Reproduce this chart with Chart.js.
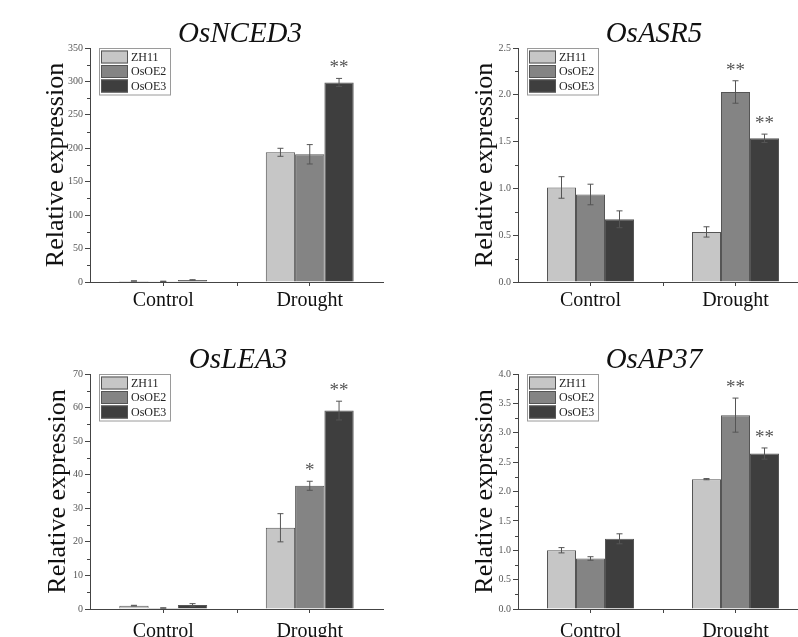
<!DOCTYPE html>
<html>
<head>
<meta charset="utf-8">
<script src="https://cdn.jsdelivr.net/npm/chart.js@4.4.0/dist/chart.umd.min.js"></script>
<style>
    html, body { margin: 0; padding: 0; background: #fff; }
    body { width: 798px; height: 637px; overflow: hidden; position: relative; }
    canvas { position: absolute; }
</style>
</head>
<body>
<canvas id="nced3" width="400" height="318" style="left:0;top:0"></canvas>
<canvas id="asr5" width="420" height="318" style="left:400px;top:0"></canvas>
<canvas id="lea3" width="400" height="330" style="left:0;top:320px"></canvas>
<canvas id="ap37" width="420" height="330" style="left:400px;top:320px"></canvas>
<script>
// Expression data (mean, error, significance)
const categories = ['Control', 'Drought'];
const lines = ['ZH11', 'OsOE2', 'OsOE3'];

// OsNCED3
const nced3Mean = [[1.5, 194], [1, 191], [3, 298.5]];
const nced3Err = [[0.2, 6], [0.2, 14.5], [0.4, 6]];
const nced3Sig = [['', ''], ['', ''], ['', '**']];
const nced3Ticks = [0, 350, 50];

// OsASR5
const asr5Mean = [[1.01, 0.535], [0.935, 2.03], [0.67, 1.535]];
const asr5Err = [[0.115, 0.055], [0.11, 0.12], [0.09, 0.045]];
const asr5Sig = [['', ''], ['', '**'], ['', '**']];
const asr5Ticks = [0, 2.5, 0.5];

// OsLEA3
const lea3Mean = [[1.0, 24.2], [0.3, 36.7], [1.2, 59.1]];
const lea3Err = [[0.1, 4.2], [0.05, 1.35], [0.4, 2.8]];
const lea3Sig = [['', ''], ['', '*'], ['', '**']];
const lea3Ticks = [0, 70, 10];

// OsAP37
const ap37Mean = [[1.0, 2.21], [0.86, 3.3], [1.195, 2.646]];
const ap37Err = [[0.045, 0.01], [0.03, 0.29], [0.085, 0.095]];
const ap37Sig = [['', ''], ['', '**'], ['', '**']];
const ap37Ticks = [0, 4, 0.5];

const barColors = ['#c6c6c6', '#848484', '#3e3e3e'];
const serif = '"Liberation Serif", "Times New Roman", serif';

// titles, legend, minor ticks, error bars and stars
const decorPlugin = {
    id: 'decor',
    afterDatasetsDraw(chart, args, opts) {
        const ctx = chart.ctx;
        const y = chart.scales.y;
        ctx.save();
        chart.data.datasets.forEach(function(ds, i) {
            const meta = chart.getDatasetMeta(i);
            meta.data.forEach(function(bar, j) {
                const top = y.getPixelForValue(ds.data[j] + ds.errors[j]);
                const bot = y.getPixelForValue(ds.data[j] - ds.errors[j]);
                ctx.strokeStyle = '#555';
                ctx.lineWidth = 1;
                ctx.beginPath();
                ctx.moveTo(bar.x, top); ctx.lineTo(bar.x, bot);
                ctx.moveTo(bar.x - 3, top); ctx.lineTo(bar.x + 3, top);
                ctx.moveTo(bar.x - 3, bot); ctx.lineTo(bar.x + 3, bot);
                ctx.stroke();
                if (ds.stars[j]) {
                    ctx.fillStyle = '#555';
                    ctx.font = '19px ' + serif;
                    ctx.textAlign = 'center';
                    ctx.textBaseline = 'alphabetic';
                    ctx.fillText(ds.stars[j], bar.x, top - 5);
                }
            });
        });
        ctx.restore();
    },
    afterDraw(chart, args, opts) {
        const ctx = chart.ctx;
        const area = chart.chartArea;
        const y = chart.scales.y;
        const x = chart.scales.x;
        ctx.save();
        // minor ticks on y
        ctx.strokeStyle = '#444';
        ctx.lineWidth = 1;
        ctx.beginPath();
        const step = y.options.ticks.stepSize;
        for (let v = y.min + step / 2; v < y.max; v += step) {
            const py = Math.round(y.getPixelForValue(v)) + 0.5;
            ctx.moveTo(area.left, py); ctx.lineTo(area.left - 3, py);
        }
        // boundary tick between categories
        const mx = Math.round(x.getPixelForValue(0.5)) + 0.5;
        ctx.moveTo(mx, area.bottom); ctx.lineTo(mx, area.bottom + 4);
        ctx.stroke();

        // title
        ctx.fillStyle = '#111';
        ctx.font = 'italic 29px ' + serif;
        ctx.textAlign = 'center';
        ctx.textBaseline = 'alphabetic';
        ctx.fillText(opts.title, opts.titleX, area.top - 6);

        // legend box
        const bx = area.left + 9, by = area.top + 0.5;
        const rowH = 14.5, sw = 27, sh = 13;
        ctx.strokeStyle = '#9a9a9a';
        ctx.strokeRect(bx + 0.5, by, 71, rowH * 3 + 3);
        ctx.font = '12px ' + serif;
        ctx.textAlign = 'left';
        ctx.textBaseline = 'middle';
        chart.data.datasets.forEach(function(ds, i) {
            const ry = by + 2 + i * rowH;
            ctx.fillStyle = ds.backgroundColor;
            ctx.fillRect(bx + 2, ry, sw, sh);
            ctx.strokeStyle = '#555';
            ctx.strokeRect(bx + 2.5, ry + 0.5, sw - 1, sh - 1);
            ctx.fillStyle = '#222';
            ctx.fillText(ds.label, bx + sw + 5, ry + sh / 2 + 0.5);
        });
        ctx.restore();
    }
};

function makePanel(id, gene, means, errs, sigs, ticks, decimals, geom) {
    const datasets = lines.map(function(name, i) {
        return {
            label: name,
            data: means[i],
            errors: errs[i],
            stars: sigs[i],
            backgroundColor: barColors[i],
            borderColor: '#555',
            borderWidth: 1,
            categoryPercentage: 0.6,
            barPercentage: 1.0
        };
    });
    new Chart(document.getElementById(id), {
        type: 'bar',
        data: { labels: categories, datasets: datasets },
        plugins: [decorPlugin],
        options: {
            responsive: false,
            animation: false,
            layout: { padding: { top: geom.padTop, right: geom.padRight, left: 0, bottom: 0 } },
            plugins: {
                legend: { display: false },
                tooltip: { enabled: false },
                decor: { title: gene, titleX: geom.titleX }
            },
            scales: {
                x: {
                    afterFit: function(s) { s.height = geom.xHeight; },
                    grid: { drawOnChartArea: false, offset: false, tickLength: 4, color: '#444' },
                    border: { color: '#444', width: 1 },
                    ticks: { font: { family: serif, size: 20 }, color: '#111', padding: geom.xPad }
                },
                y: {
                    min: ticks[0],
                    max: ticks[1],
                    afterFit: function(s) { s.width = geom.yWidth; },
                    grid: { drawOnChartArea: false, tickLength: 5, color: '#444' },
                    border: { color: '#444', width: 1 },
                    ticks: {
                        stepSize: ticks[2],
                        font: { family: serif, size: 10 },
                        color: '#555',
                        padding: 2,
                        callback: function(v) { return Number(v).toFixed(decimals); }
                    },
                    title: {
                        display: true,
                        text: 'Relative expression',
                        font: { family: serif, size: 26 },
                        color: '#111',
                        padding: { top: geom.yTitleCenter - 15.6, bottom: 0 }
                    }
                }
            }
        }
    });
}

makePanel('nced3', 'OsNCED3', nced3Mean, nced3Err, nced3Sig, nced3Ticks, 0,
    { padTop: 48, padRight: 17, xHeight: 36, xPad: 3, yWidth: 90, yTitleCenter: 56, titleX: 240 });
makePanel('asr5', 'OsASR5', asr5Mean, asr5Err, asr5Sig, asr5Ticks, 1,
    { padTop: 48, padRight: 12, xHeight: 36, xPad: 3, yWidth: 118, yTitleCenter: 85, titleX: 254 });
makePanel('lea3', 'OsLEA3', lea3Mean, lea3Err, lea3Sig, lea3Ticks, 0,
    { padTop: 54, padRight: 17, xHeight: 41, xPad: 7, yWidth: 90, yTitleCenter: 58, titleX: 238 });
makePanel('ap37', 'OsAP37', ap37Mean, ap37Err, ap37Sig, ap37Ticks, 1,
    { padTop: 54, padRight: 12, xHeight: 41, xPad: 7, yWidth: 118, yTitleCenter: 85, titleX: 254 });
</script>
</body>
</html>
